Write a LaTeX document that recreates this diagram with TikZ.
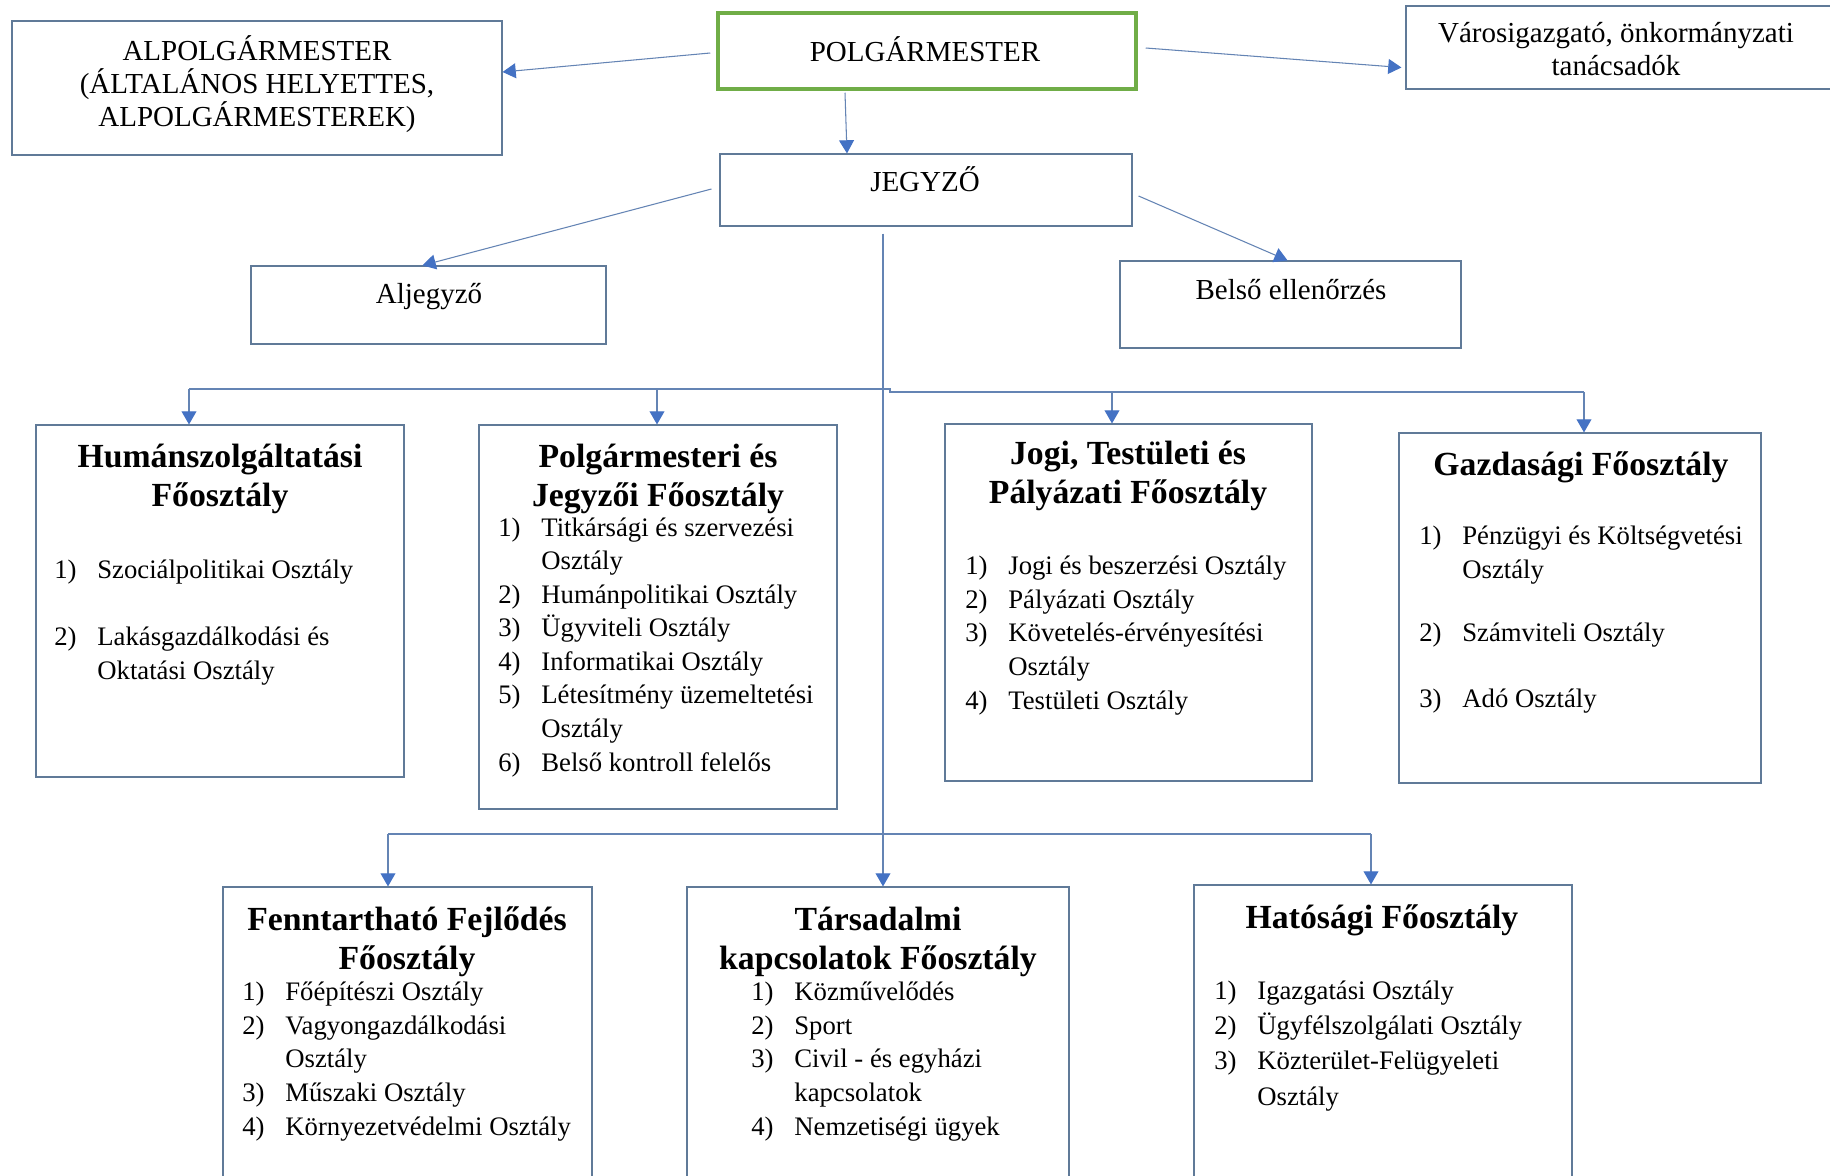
\documentclass[tikz,border=0pt]{standalone}
\usepackage{fontspec}
\setmainfont{Liberation Serif}
\usetikzlibrary{arrows.meta,fit,calc}
\definecolor{boxline}{RGB}{96,122,152}
\definecolor{mayorgreen}{RGB}{112,173,71}
\definecolor{connline}{RGB}{100,132,180}
\definecolor{tipblue}{RGB}{68,114,196}
\newcommand{\topfont}{\fontsize{16.5}{18.9}\selectfont}
\newcommand{\headfont}{\fontsize{19.2}{22}\selectfont\bfseries}
\newcommand{\listfont}{\fontsize{15.2}{19.1}\selectfont}
\newcommand{\lbl}[1]{\makebox[24.5pt][l]{#1}}
\newcommand{\cont}{\hspace*{24.5pt}}
\begin{document}
\begin{tikzpicture}[x=0.02cm,y=-0.02cm,
  box/.style={draw=boxline,line width=0.65pt,inner sep=0pt},
  mayor/.style={draw=mayorgreen,line width=2pt,inner sep=0pt},
  link/.style={draw=connline,line width=0.6pt},
  arr/.style={link,-{Triangle[width=8.5pt,length=7.5pt,color=tipblue]}},
  toptext/.style={font=\topfont,align=center,anchor=base,inner sep=0pt},
  headtext/.style={font=\headfont,align=center,anchor=base,inner sep=0pt},
  listtext/.style={font=\listfont,align=left,anchor=base west,inner sep=0pt}]
\useasboundingbox (0,0) rectangle (1830,1176);
\fill[white] (0,0) rectangle (1830,1176);
\clip (0,0) rectangle (1830,1176);
% boxes
\node[mayor,fit={(718,13) (1136,89)}] (polg) {};
\node[box,fit={(12,21) (502,155)}] (alpolg) {};
\node[box,fit={(1406,6) (1850,89)}] (varos) {};
\node[box,fit={(720,154) (1132,226)}] (jegyzo) {};
\node[box,fit={(251,266) (606,344)}] (aljegyzo) {};
\node[box,fit={(1120,261) (1461,348)}] (belso) {};
\node[box,fit={(36,425) (404,777)}] (human) {};
\node[box,fit={(479,425) (837,809)}] (polgj) {};
\node[box,fit={(945,424) (1312,781)}] (jogi) {};
\node[box,fit={(1399,433) (1761,783)}] (gazd) {};
\node[box,fit={(223,887) (592,1200)}] (fennt) {};
\node[box,fit={(687,887) (1069,1200)}] (tars) {};
\node[box,fit={(1194,885) (1572,1200)}] (hatos) {};
% top texts (multi-line nodes sit on their last baseline)
\node[toptext] (polgT) at (925,62) {POLGÁRMESTER};
\node[toptext] (alpolgT) at (257,127) {ALPOLGÁRMESTER\\(ÁLTALÁNOS HELYETTES,\\ALPOLGÁRMESTEREK)};
\node[toptext] (varosT) at (1616,76) {Városigazgató, önkormányzati\\tanácsadók};
\node[toptext] (jegyzoT) at (925,192) {JEGYZŐ};
\node[toptext] (aljegyzoT) at (429,303) {Aljegyző};
\node[toptext] (belsoT) at (1291,299) {Belső ellenőrzés};
% headings
\node[headtext] (humanH) at (220,506) {Humánszolgáltatási\\Főosztály};
\node[headtext] (polgjH) at (658,506) {Polgármesteri és\\Jegyzői Főosztály};
\node[headtext] (jogiH) at (1128,503) {Jogi, Testületi és\\Pályázati Főosztály};
\node[headtext] (gazdH) at (1581,475) {Gazdasági Főosztály};
\node[headtext] (fenntH) at (407,969) {Fenntartható Fejlődés\\Főosztály};
\node[headtext] (tarsH) at (878,969) {Társadalmi\\kapcsolatok Főosztály};
\node[headtext] (hatosH) at (1382,928) {Hatósági Főosztály};
% lists
\node[listtext] (humanL) at (54,679) {\lbl{1)}Szociálpolitikai Osztály\\[19pt]
  \lbl{2)}Lakásgazdálkodási és\\\cont Oktatási Osztály};
\node[listtext] (polgjL) at (498,771) {\lbl{1)}Titkársági és szervezési\\\cont Osztály\\
  \lbl{2)}Humánpolitikai Osztály\\\lbl{3)}Ügyviteli Osztály\\\lbl{4)}Informatikai Osztály\\
  \lbl{5)}Létesítmény üzemeltetési\\\cont Osztály\\\lbl{6)}Belső kontroll felelős};
\node[listtext] (jogiL) at (965,709) {\lbl{1)}Jogi és beszerzési Osztály\\\lbl{2)}Pályázati Osztály\\
  \lbl{3)}Követelés-érvényesítési\\\cont Osztály\\\lbl{4)}Testületi Osztály};
\node[listtext] (gazdL) at (1419,707) {\lbl{1)}Pénzügyi és Költségvetési\\\cont Osztály\\[16.8pt]
  \lbl{2)}Számviteli Osztály\\[18.2pt]\lbl{3)}Adó Osztály};
\node[listtext] (fenntL) at (242,1135) {\lbl{1)}Főépítészi Osztály\\\lbl{2)}Vagyongazdálkodási\\\cont Osztály\\
  \lbl{3)}Műszaki Osztály\\\lbl{4)}Környezetvédelmi Osztály};
\node[listtext] (tarsL) at (751,1135) {\lbl{1)}Közművelődés\\\lbl{2)}Sport\\\lbl{3)}Civil - és egyházi\\
  \cont kapcsolatok\\\lbl{4)}Nemzetiségi ügyek};
\node[listtext] (hatosL) at (1214,1105) {\lbl{1)}Igazgatási Osztály\\[1pt]\lbl{2)}Ügyfélszolgálati Osztály\\[1pt]
  \lbl{3)}Közterület-Felügyeleti\\[1pt]\cont Osztály};
% connectors
\draw[arr] ($(polg.west)+(-6,2)$) -- ($(alpolg.east)+(0,-16)$);
\draw[arr] ($(polg.east)+(8,-3)$) -- ($(varos.west)+(-4,20)$);
\draw[arr] ($(polg.south)+(-82,2)$) -- ($(jegyzo.north)+(-79,0)$);
\draw[arr] ($(jegyzo.west)+(-8,-1)$) -- ($(aljegyzo.north)+(-6,0)$);
\draw[arr] ($(jegyzo.east)+(6,6)$) -- ($(belso.north)+(-3,0)$);
\coordinate (trunk) at ($(jegyzo.south)+(-43,7)$);
\coordinate (h1) at (189,389);
\coordinate (h2) at (657,389);
\coordinate (h3) at (1112,392);
\coordinate (h4) at (1584,392);
\coordinate (g1) at (388,834);
\coordinate (g3) at (1371,834);
\draw[arr] (trunk) -- (trunk |- tars.north);
\draw[link] (h1) -- (890,389) -- (890,392) -- (h4);
\draw[link] (g1) -- (g3);
\draw[arr] (h1) -- (h1 |- human.north);
\draw[arr] (h2) -- (h2 |- polgj.north);
\draw[arr] (h3) -- (h3 |- jogi.north);
\draw[arr] (h4) -- (h4 |- gazd.north);
\draw[arr] (g1) -- (g1 |- fennt.north);
\draw[arr] (g3) -- (g3 |- hatos.north);
\end{tikzpicture}
\end{document}
